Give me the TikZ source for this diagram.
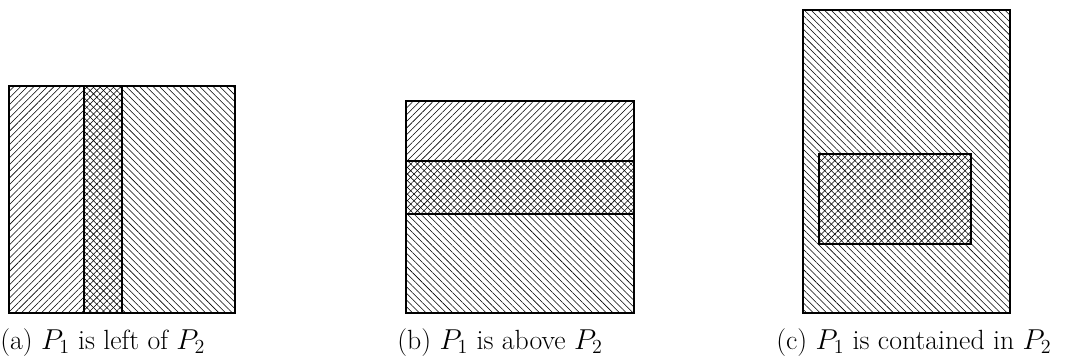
\documentclass[tikz,border=0pt]{standalone}
\usetikzlibrary{patterns.meta}
\tikzset{
  pone/.style={pattern={Lines[angle=45,distance=3.4pt,line width=0.4pt]}},
  ptwo/.style={pattern={Lines[angle=-45,distance=3.4pt,line width=0.4pt]}},
  border/.style={draw=black,line width=1.1pt},
  caption/.style={anchor=base west,inner sep=0pt,font=\fontsize{20}{24}\selectfont}
}
\begin{document}
\begin{tikzpicture}[x=0.72pt,y=-0.72pt]
\useasboundingbox (0,0) rectangle (1076,361);
% (a)
\path[pone] (9,86) rectangle (122,313);
\path[ptwo] (84,86) rectangle (235,313);
\draw[border] (9,86) rectangle (122,313);
\draw[border] (84,86) rectangle (235,313);
% (b)
\path[pone] (406,101) rectangle (634,214);
\path[ptwo] (406,161) rectangle (634,313);
\draw[border] (406,101) rectangle (634,214);
\draw[border] (406,161) rectangle (634,313);
% (c)
\path[ptwo] (803,10) rectangle (1010,313);
\path[pone] (819,154) rectangle (971,244);
\draw[border] (803,10) rectangle (1010,313);
\draw[border] (819,154) rectangle (971,244);
% captions
\node[caption] (capa) at (0,349) {(a) $P_1$ is left of $P_2$};
\node[caption] (capb) at (397,349) {(b) $P_1$ is above $P_2$};
\node[caption] (capc) at (776,349) {(c) $P_1$ is contained in $P_2$};
\end{tikzpicture}
\end{document}
